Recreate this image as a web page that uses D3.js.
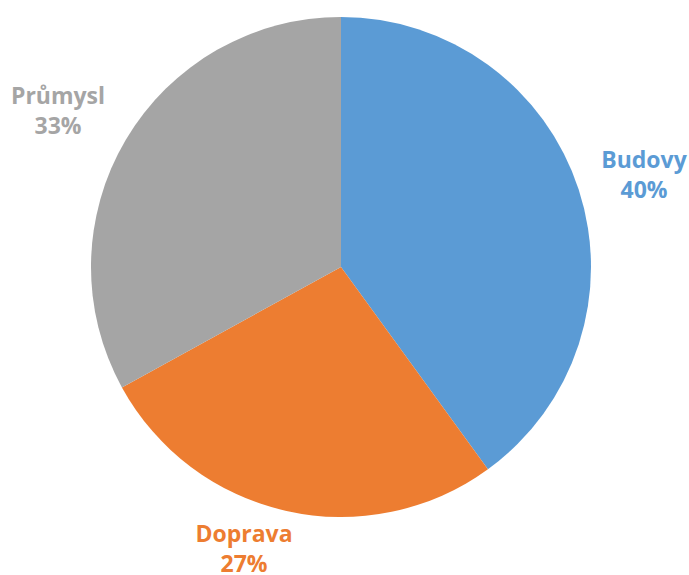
<!DOCTYPE html>
<html>
<head>
<meta charset="utf-8">
<script src="https://cdn.jsdelivr.net/npm/d3@7"></script>
<style>
  html, body { margin: 0; padding: 0; background: #fff; }
  svg { display: block; }
</style>
</head>
<body>
<svg id="chart" width="689" height="575"></svg>
<script>
// Energy consumption share by sector
const categories = ["Budovy", "Doprava", "Průmysl"];
const values = [40, 27, 33];
const colors = ["#5B9BD5", "#ED7D31", "#A5A5A5"];
// label anchor points: x centre and baseline of the first line
const labelPos = [[644, 168], [244, 542], [58, 104]];

const svg = d3.select("#chart");
const cx = 341, cy = 267, r = 250;

const pie = d3.pie().sort(null).value(d => d.value);
const arc = d3.arc().innerRadius(0).outerRadius(r);

const data = categories.map((c, i) => ({ name: c, value: values[i], color: colors[i], pos: labelPos[i] }));
const arcs = pie(data);

const g = svg.append("g").attr("transform", `translate(${cx},${cy})`);
g.selectAll("path")
  .data(arcs)
  .join("path")
  .attr("d", arc)
  .attr("fill", d => d.data.color);

const total = d3.sum(values);
const lbl = svg.append("g")
  .attr("font-family", "'Open Sans', Lato, sans-serif")
  .attr("font-weight", "bold")
  .attr("font-size", 23)
  .attr("text-anchor", "middle");

arcs.forEach(d => {
  const t = lbl.append("text")
    .attr("fill", d.data.color)
    .attr("x", d.data.pos[0])
    .attr("y", d.data.pos[1]);
  t.append("tspan").attr("x", d.data.pos[0]).text(d.data.name);
  t.append("tspan").attr("x", d.data.pos[0]).attr("dy", 30)
    .text(Math.round(d.data.value / total * 100) + "%");
});
</script>
</body>
</html>
